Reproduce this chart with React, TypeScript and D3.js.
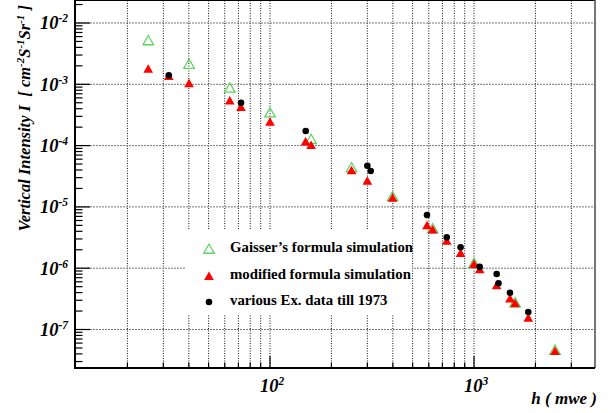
import * as d3 from "d3";

const width = 608;
const height = 413;
const frame = { left: 75, right: 595, top: 0.5, bottom: 368 };

// axis ranges (log-log)
const xDomain: [number, number] = [11.07, 3917];
const yDomain: [number, number] = [2.355e-8, 0.02328];

// Gaisser's formula simulation (open green triangles)
const gaisserDepth = [25.3, 40.1, 63.5, 100, 159, 251, 399, 627, 1000, 1589, 2495];
const gaisserFlux = [5.18e-3, 2.14e-3, 8.71e-4, 3.44e-4, 1.27e-4, 4.39e-5, 1.48e-5, 4.44e-6, 1.2e-6, 2.75e-7, 4.63e-8];

// modified formula simulation (filled red triangles)
const modDepth = [25.3, 31.9, 40.1, 63.5, 72.1, 100, 149.4, 159, 251, 300, 399, 588, 627, 735, 859, 1000, 1066, 1291, 1500, 1589, 1845, 2495];
const modFlux = [1.78e-3, 1.36e-3, 1.04e-3, 5.4e-4, 4.26e-4, 2.45e-4, 1.16e-4, 1.02e-4, 3.95e-5, 2.65e-5, 1.4e-5, 5.01e-6, 4.28e-6, 2.8e-6, 1.77e-6, 1.17e-6, 9.6e-7, 5.26e-7, 3.19e-7, 2.67e-7, 1.55e-7, 4.46e-8];

// various experimental data till 1973 (black dots)
const expDepth = [31.9, 72.1, 149.6, 300, 311.6, 588, 735, 859, 1066, 1291, 1318, 1500, 1845];
const expFlux = [1.4e-3, 5.01e-4, 1.73e-4, 4.68e-5, 3.85e-5, 7.38e-6, 3.19e-6, 2.19e-6, 1.05e-6, 8.04e-7, 5.67e-7, 3.98e-7, 1.93e-7];

const legendLabels = ["Gaisser\u2019s formula simulation", "modified formula simulation", "various Ex. data till 1973"];

const font = "'Liberation Serif', 'Times New Roman', serif";
const green = "#5fd35f";
const red = "#ff0000";

// triangle centred on its bounding box, like ROOT markers
const boxTriangle: d3.SymbolType = {
  draw(context, size) {
    const s = Math.sqrt(size) / 2;
    context.moveTo(0, -s);
    context.lineTo(s * 1.05, s * 0.85);
    context.lineTo(-s * 1.05, s * 0.85);
    context.closePath();
  },
};

const isDecade = (v: number) => Math.abs(Math.log10(v) - Math.round(Math.log10(v))) < 1e-6;

const App = () => {
  const x = d3.scaleLog().domain(xDomain).range([frame.left, frame.right]);
  const y = d3.scaleLog().domain(yDomain).range([frame.bottom, frame.top]);

  const xTicks = x.ticks();
  const yTicks = y.ticks();
  const triOpen = d3.symbol(boxTriangle, 100)()!;
  const triFill = d3.symbol(boxTriangle, 85)()!;
  const dot = d3.symbol(d3.symbolCircle, 34)()!;

  return (
    <svg width={width} height={height} style={{ position: "absolute", left: 0, top: 0 }}>
      <rect width={width} height={height} fill="#fff" />

      {/* grid */}
      {xTicks.map((t, i) => (
        <line key={"gx" + i} x1={x(t)} x2={x(t)} y1={frame.top} y2={frame.bottom}
          stroke="#111" strokeWidth={1} strokeDasharray="1 1.5" />
      ))}
      {yTicks.filter(isDecade).map((t, i) => (
        <line key={"gy" + i} x1={frame.left} x2={frame.right} y1={y(t)} y2={y(t)}
          stroke="#777" strokeWidth={1} strokeDasharray="2 1" />
      ))}

      {/* markers */}
      {gaisserDepth.map((d, i) => (
        <path key={"g" + i} d={triOpen} transform={`translate(${x(d)},${y(gaisserFlux[i])})`}
          fill="none" stroke={green} strokeWidth={1.3} />
      ))}
      {modDepth.map((d, i) => (
        <path key={"m" + i} d={triFill} transform={`translate(${x(d)},${y(modFlux[i])})`} fill={red} />
      ))}
      {expDepth.map((d, i) => (
        <path key={"e" + i} d={dot} transform={`translate(${x(d)},${y(expFlux[i])})`} fill="#000" />
      ))}

      {/* legend */}
      <rect x={186} y={229} width={226} height={85} fill="#fff" />
      <path d={triOpen} transform="translate(209,249)" fill="none" stroke={green} strokeWidth={1.3} />
      <path d={triFill} transform="translate(209,276)" fill={red} />
      <path d={dot} transform="translate(209,302)" fill="#000" />
      {legendLabels.map((l, i) => (
        <text key={l} x={230} y={252 + i * 26.5} fontFamily={font} fontWeight="bold" fontSize={14.8}>{l}</text>
      ))}

      {/* ticks */}
      {xTicks.map((t, i) => {
        const len = isDecade(t) ? 12 : 5.5;
        return <line key={"tx" + i} x1={x(t)} x2={x(t)} y1={frame.bottom} y2={frame.bottom - len} stroke="#000" strokeWidth={1.2} />;
      })}
      {yTicks.map((t, i) => {
        const len = isDecade(t) ? 15 : 7.5;
        return <line key={"ty" + i} x1={frame.left} x2={frame.left + len} y1={y(t)} y2={y(t)} stroke="#000" strokeWidth={1.2} />;
      })}

      {/* frame */}
      <line x1={frame.left} x2={frame.right} y1={frame.top} y2={frame.top} stroke="#000" strokeWidth={1} />
      <line x1={frame.right} x2={frame.right} y1={0} y2={frame.bottom} stroke="#555" strokeWidth={1.6} />
      <line x1={frame.left} x2={frame.left} y1={0} y2={frame.bottom + 1} stroke="#000" strokeWidth={2} />
      <line x1={frame.left} x2={frame.right} y1={frame.bottom} y2={frame.bottom} stroke="#000" strokeWidth={2} />

      {/* tick labels */}
      {yTicks.filter(isDecade).map((t, i) => (
        <text key={"ly" + i} x={68} y={y(t) + 6.5} textAnchor="end" fontFamily={font}
          fontWeight="bold" fontStyle="italic" fontSize={18.5}>
          10<tspan dy={-7} fontSize={11.5}>{Math.round(Math.log10(t))}</tspan>
        </text>
      ))}
      {xTicks.filter(isDecade).map((t, i) => (
        <text key={"lx" + i} x={x(t) + 2} y={392} textAnchor="middle" fontFamily={font}
          fontWeight="bold" fontStyle="italic" fontSize={18.5}>
          10<tspan dy={-7.5} fontSize={11.5}>{Math.round(Math.log10(t))}</tspan>
        </text>
      ))}

      {/* axis titles */}
      <text x={597} y={404} textAnchor="end" fontFamily={font} fontWeight="bold" fontStyle="italic" fontSize={17}>
        h ( mwe )
      </text>
      <text transform="rotate(-90)" x={-5} y={30} textAnchor="end" fontFamily={font}
        fontWeight="bold" fontStyle="italic" fontSize={16.5}>
        {"Vertical Intensity I \u00a0[ cm"}<tspan dy={-6} fontSize={11}>-2</tspan>
        <tspan dy={6}>S</tspan><tspan dy={-6} fontSize={11}>-1</tspan>
        <tspan dy={6}>Sr</tspan><tspan dy={-6} fontSize={11}>-1</tspan>
        <tspan dy={6}>{"\u00a0]"}</tspan>
      </text>
    </svg>
  );
};

export default App;
